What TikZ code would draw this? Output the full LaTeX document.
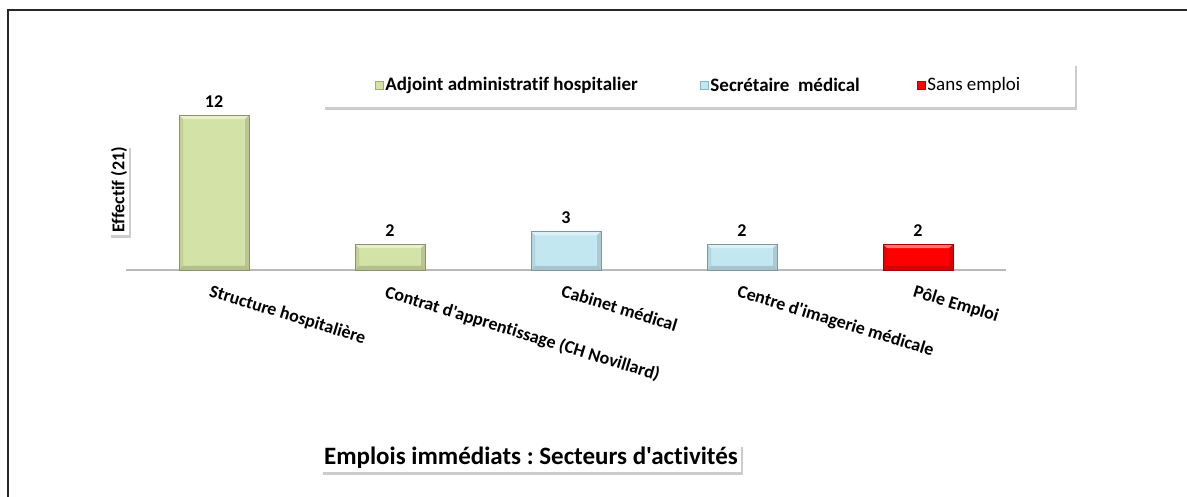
\documentclass[tikz,border=0pt]{standalone}
\usepackage{fontspec}
\setmainfont{Carlito}[Ligatures={TeXOff,NoCommon}]
\usetikzlibrary{shadows,positioning}
\definecolor{vert}{HTML}{D3E2A6}
\definecolor{vertfonce}{HTML}{9DB16C}
\definecolor{bleu}{HTML}{C3E7F1}
\definecolor{bleufonce}{HTML}{88B6C2}
\definecolor{rouge}{HTML}{FF0000}
\definecolor{rougefonce}{HTML}{B40000}
\tikzset{
  boite/.style={fill=white, drop shadow={shadow xshift=2pt,shadow yshift=-3pt,opacity=.4}},
  valeur/.style={font=\bfseries\fontsize{18}{21}\selectfont, anchor=south},
  categorie/.style={font=\bfseries\fontsize{18}{21}\selectfont, rotate=-17, anchor=north west, inner sep=0pt},
  legtexte/.style={font=\bfseries\fontsize{19}{22}\selectfont, inner sep=1pt},
  carre/.style={minimum size=8pt, inner sep=0pt, line width=.5pt},
}
\frenchspacing
\begin{document}
\begin{tikzpicture}[x=1pt,y=-1pt]
  \useasboundingbox (0,0) rectangle (1187,497);
  % cadre
  \draw[line width=2pt, black!85] (8,497) |- (1187,10.5);
  % axe horizontal
  \draw[gray!55, line width=1.2pt] (126,270) -- (1006,270);
  % barres
  \foreach \cx/\val/\coul/\nom/\lab in {214/12/vert/a/{Structure hospitalière},
      390/2/vert/b/{Contrat d'apprentissage (CH Novillard)},
      566/3/bleu/c/{Cabinet médical},
      742/2/bleu/d/{Centre d'imagerie médicale},
      918/2/rouge/e/{Pôle Emploi}}{
    \pgfmathsetmacro{\haut}{270-12.9*\val}
    \fill[\coul] (\cx-35,\haut) rectangle (\cx+35,270);
    \fill[white,opacity=.45] (\cx-35,\haut) -- (\cx+35,\haut) -- (\cx+31,\haut+4) -- (\cx-31,\haut+4) -- cycle;
    \fill[black,opacity=.08] (\cx-35,\haut) -- (\cx-31,\haut+4) -- (\cx-31,266) -- (\cx-35,270) -- cycle;
    \fill[black,opacity=.12] (\cx+35,\haut) -- (\cx+31,\haut+4) -- (\cx+31,266) -- (\cx+35,270) -- cycle;
    \fill[black,opacity=.15] (\cx-35,270) -- (\cx-31,266) -- (\cx+31,266) -- (\cx+35,270) -- cycle;
    \draw[\coul!65!black, line width=.6pt] (\cx-35,\haut) rectangle (\cx+35,270);
    \node[valeur] (v\nom) at (\cx,\haut-4) {\val};
    \node[categorie] (cat\nom) at (\cx-2,284) {\lab};
  }
  % axe vertical : titre
  \node[boite, rotate=90, font=\bfseries\fontsize{18}{21}\selectfont, inner sep=2pt] (effectif) at (119,190) {Effectif (21)};
  % legende
  \node[boite, minimum width=752pt, minimum height=44pt, anchor=north west, inner sep=0pt] (legende) at (323,63) {};
  \node[carre, fill=vert, draw=vertfonce] (cA) at (379,85) {};
  \node[legtexte, right=1pt of cA] (lA) {Adjoint administratif hospitalier};
  \node[carre, fill=bleu, draw=bleufonce] (cB) at (704,85) {};
  \node[legtexte, right=1pt of cB] (lB) {Secrétaire\ \ médical};
  \node[carre, fill=rouge, draw=rougefonce] (cC) at (921,85) {};
  \node[legtexte, font=\fontsize{19}{22}\selectfont, right=1pt of cC] (lC) {Sans emploi};
  % titre
  \node[boite, font=\bfseries\fontsize{25}{29}\selectfont, inner sep=3pt] (titre) at (531,458) {Emplois immédiats : Secteurs d'activités};
\end{tikzpicture}
\end{document}
